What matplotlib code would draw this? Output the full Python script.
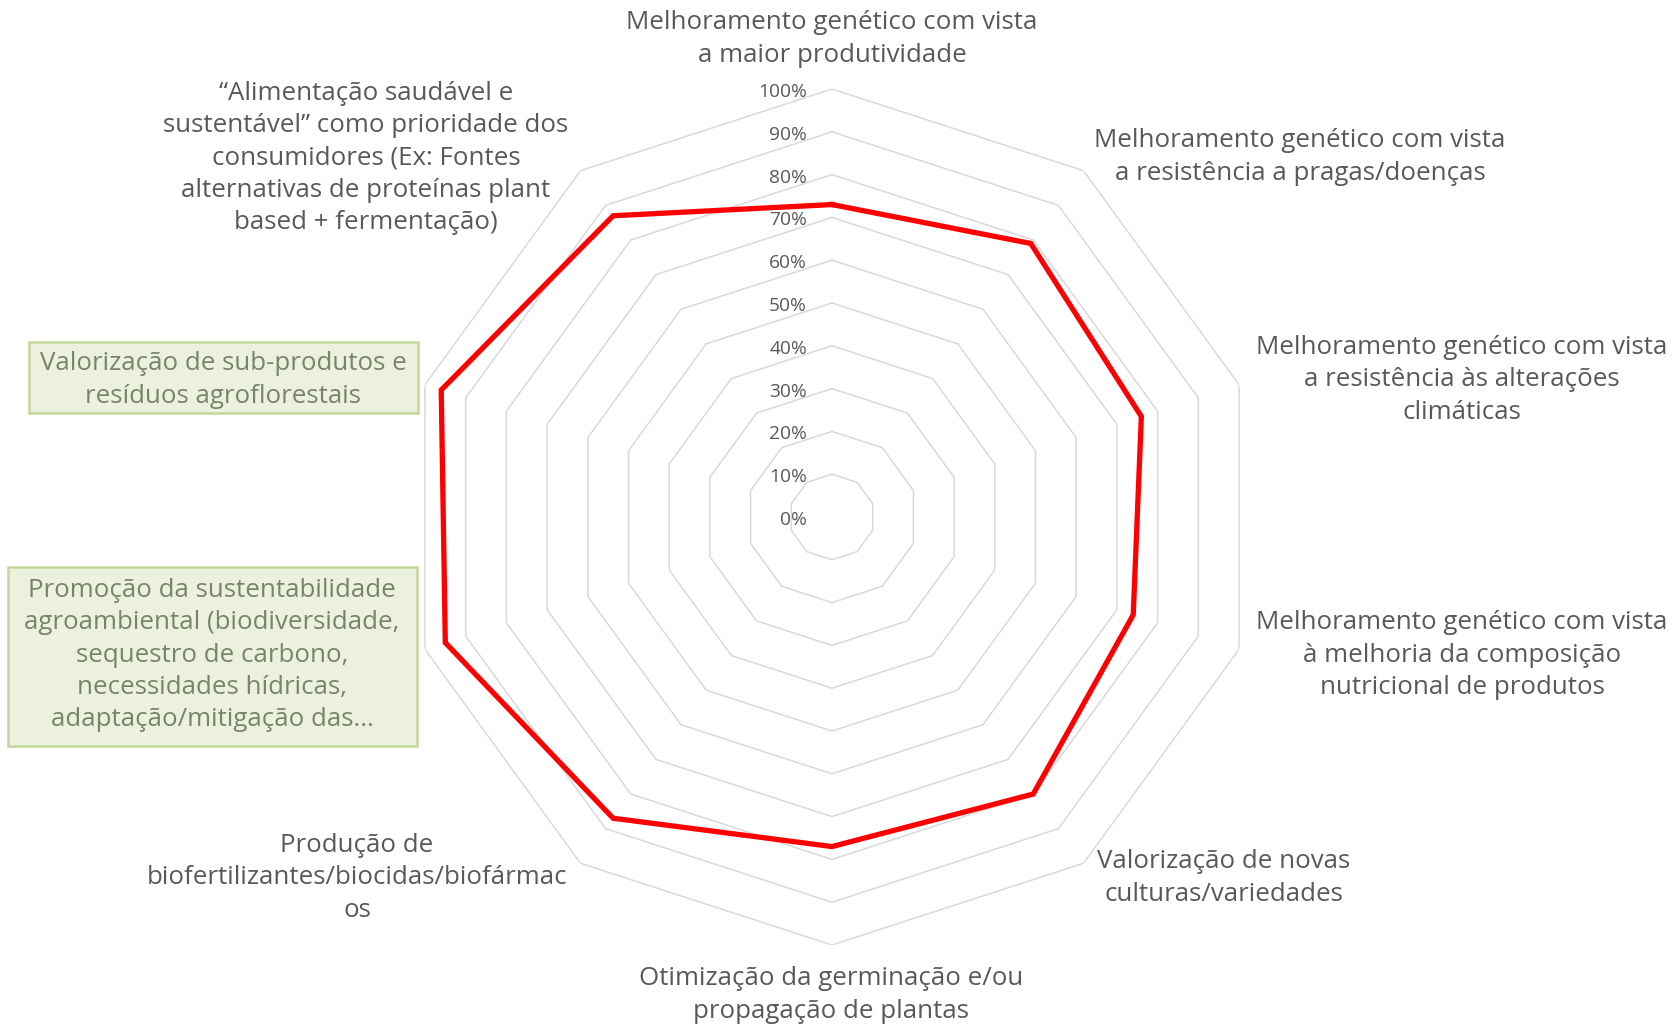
import numpy as np
import matplotlib
matplotlib.use("Agg")
import matplotlib.pyplot as plt
from matplotlib.patches import Rectangle

categories = [
    "Melhoramento genético com vista\na maior produtividade",
    "Melhoramento genético com vista\na resistência a pragas/doenças",
    "Melhoramento genético com vista\na resistência às alterações\nclimáticas",
    "Melhoramento genético com vista\nà melhoria da composição\nnutricional de produtos",
    "Valorização de novas\nculturas/variedades",
    "Otimização da germinação e/ou\npropagação de plantas",
    "Produção de\nbiofertilizantes/biocidas/biofármac\nos",
    "Promoção da sustentabilidade\nagroambiental (biodiversidade,\nsequestro de carbono,\nnecessidades hídricas,\nadaptação/mitigação das...",
    "Valorização de sub-produtos e\nresíduos agroflorestais",
    "“Alimentação saudável e\nsustentável” como prioridade dos\nconsumidores (Ex: Fontes\nalternativas de proteínas plant\nbased + fermentação)",
]
values = [0.73, 0.79, 0.76, 0.74, 0.80, 0.77, 0.87, 0.95, 0.96, 0.87]
tick_values = [0.0, 0.1, 0.2, 0.3, 0.4, 0.5, 0.6, 0.7, 0.8, 0.9, 1.0]
tick_labels = ["0%", "10%", "20%", "30%", "40%", "50%", "60%", "70%", "80%", "90%", "100%"]
highlighted = [7, 8]

W, H = 1673, 1025
FONT = "Open Sans"
TXT = "#595959"

fig = plt.figure(figsize=(W / 100, H / 100), dpi=100)
fig.patch.set_facecolor("white")

cx, cy, R = 832, 517, 428
ax = fig.add_axes([(cx - R) / W, (H - cy - R) / H, 2 * R / W, 2 * R / H], projection="polar")
ax.set_theta_zero_location("N")
ax.set_theta_direction(-1)
ax.set_ylim(0, 1)
ax.grid(False)
ax.spines["polar"].set_visible(False)
ax.set_xticks([])
ax.set_yticks([])
ax.patch.set_alpha(0)

n = len(categories)
theta = np.linspace(0, 2 * np.pi, n, endpoint=False)
theta_c = np.append(theta, theta[0])

for r in tick_values[1:]:
    ax.plot(theta_c, [r] * (n + 1), color="#D9D9D9", lw=1.1, zorder=1, solid_joinstyle="miter")

vals = np.append(values, values[0])
ax.plot(theta_c, vals, color="#FF0000", lw=3.8, zorder=3, solid_joinstyle="miter")

for r, lab in zip(tick_values, tick_labels):
    ax.annotate(lab, xy=(0, r), xytext=(-25, -3), textcoords="offset pixels",
                ha="right", va="center", fontsize=13.8, color=TXT, family=FONT, zorder=4)

label_pos = [(832, 39), (1300, 157), (1462, 380), (1462, 655), (1224, 878),
             (831, 995), (357, 878), (212, 655), (223, 380), (366, 158)]
box_rects = {7: (8, 567, 417, 746), 8: (29, 342, 418, 413)}

for i, (lab, (px, py)) in enumerate(zip(categories, label_pos)):
    color = TXT
    if i in highlighted:
        x0, y0, x1, y1 = box_rects[i]
        fig.patches.append(Rectangle((x0 / W, 1 - y1 / H), (x1 - x0) / W, (y1 - y0) / H,
                                     transform=fig.transFigure, facecolor="#EBF1DE",
                                     edgecolor="#C4D79B", lw=1.8, zorder=0))
        color = "#7A8368"
    fig.text(px / W, 1 - py / H, lab, ha="center", va="center", multialignment="center",
             fontsize=18.6, color=color, family=FONT, linespacing=1.37)

fig.savefig("out.png", dpi=100, facecolor="white")
